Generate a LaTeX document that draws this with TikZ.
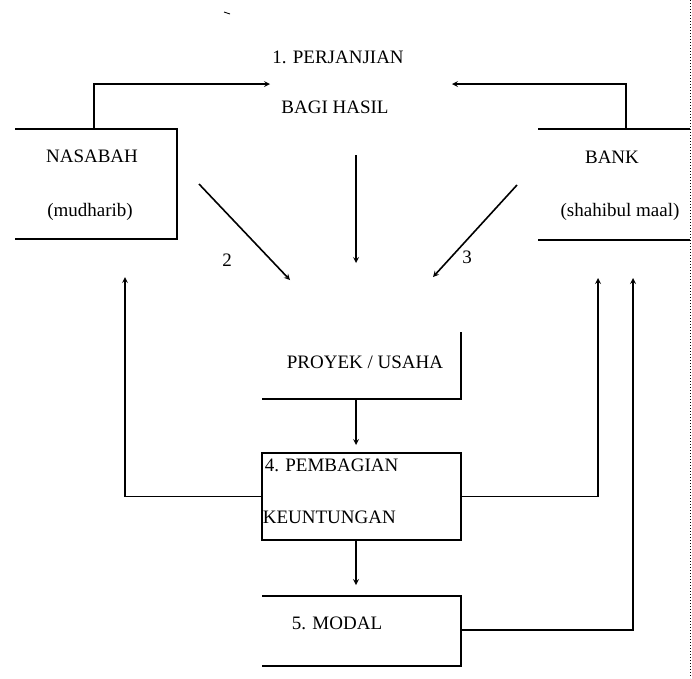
\documentclass[tikz,border=0pt]{standalone}
\usepackage{fontspec}
\setmainfont{Liberation Serif}
\begin{document}
\begin{tikzpicture}[x=1pt,y=-1pt,line width=1.6pt,
    txt/.style={inner sep=0pt,font=\fontsize{19}{22}\selectfont},
    arr/.style={-stealth}]
      \useasboundingbox (0,0) rectangle (692,678);
      \draw[line width=1pt,dotted] (690,0) -- (690,678);
      \draw[line width=0.8pt] (224,12) -- (230,14);
      \node[txt] (perjanjian) at (338,57) {1. PERJANJIAN};
      \node[txt] (hasil) at (335,107) {BAGI HASIL};
      \draw (15,129) -| (177,239) -- (15,239);
      \node[txt] (nasabah) at (92,156) {NASABAH};
      \node[txt] (mudharib) at (90,212) {(mudharib)};
      \draw (538,129) -- (690,129);
      \draw (538,240) -- (690,240);
      \node[txt] (bank) at (612,157) {BANK};
      \node[txt] (shahibul) at (620,212) {(shahibul maal)};
      \draw (461,332) |- (262,399);
      \node[txt] (proyek) at (365,362) {PROYEK / USAHA};
      \node[draw,minimum width=199pt,minimum height=87pt,inner sep=0pt] (pembagian) at (361.5,496.5) {};
      \node[txt,anchor=west] (pembagianA) at (264,465) {4. PEMBAGIAN};
      \node[txt,anchor=west] (pembagianB) at (262,517) {KEUNTUNGAN};
      \draw (262,596) -| (461,666) -- (262,666);
      \node[txt] (modal) at (337,623) {5. MODAL};
      \coordinate (nasabahTop) at (94,129);
      \coordinate (bankTop) at (626,129);
      \coordinate (hasilL) at (270,84);
      \coordinate (hasilR) at (452,84);
      \coordinate (hasilS) at (356,155);
      \coordinate (proyekN) at (356,263);
      \coordinate (nasabahSE) at (199,184);
      \coordinate (proyekNW) at (290,280);
      \coordinate (bankSW) at (517,185);
      \coordinate (proyekNE) at (433,277);
      \coordinate (proyekS) at (356,399);
      \coordinate (pembagianN) at (356,445);
      \coordinate (pembagianS) at (356,540);
      \coordinate (modalN) at (356,585);
      \coordinate (modalE) at (461,630);
      \coordinate (nasabahIn) at (125,277);
      \coordinate (bankInA) at (598,278);
      \coordinate (bankInB) at (633,278);
      \draw[arr] (nasabahTop) |- (hasilL);
      \draw[arr] (bankTop) |- (hasilR);
      \draw[arr] (hasilS) -- (proyekN);
      \draw[arr] (nasabahSE) -- (proyekNW);
      \draw[arr] (bankSW) -- (proyekNE);
      \node[txt] (two) at (227,260) {2};
      \node[txt] (three) at (467,257) {3};
      \draw[arr] (proyekS) -- (pembagianN);
      \draw[arr] (pembagianS) -- (modalN);
      \draw[arr] (pembagian.west) -| (nasabahIn);
      \draw[arr] (pembagian.east) -| (bankInA);
      \draw[arr] (modalE) -| (bankInB);
\end{tikzpicture}
\end{document}
